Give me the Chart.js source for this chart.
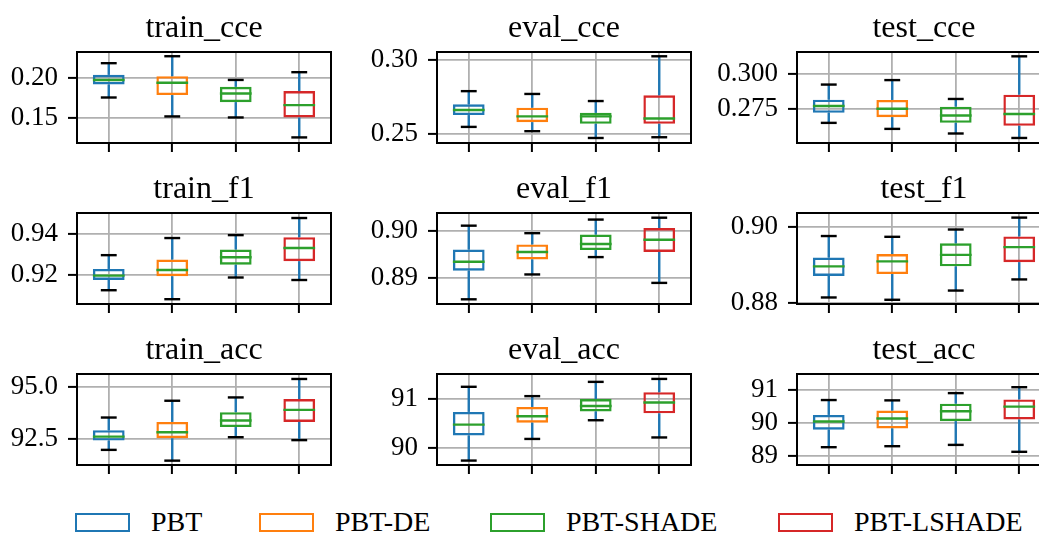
<!DOCTYPE html>
<html>
<head>
<meta charset="utf-8">
<script src="https://cdn.jsdelivr.net/npm/chart.js@4.4.1/dist/chart.umd.min.js"></script>
<style>
  html, body { margin: 0; padding: 0; background: #fff; }
  #fig { position: relative; width: 1039px; height: 534px; overflow: hidden; }
  #fig canvas { position: absolute; }
  .item {
    position: absolute; top: 505px; height: 34px;
    display: flex; align-items: center; white-space: nowrap;
    font-family: "Liberation Serif", serif; font-size: 28px; color: #000;
  }
  .swatch { box-sizing: border-box; width: 55px; height: 19px; border: 2.5px solid; margin-right: 21px; }
</style>
</head>
<body>
<div id="fig"></div>
<script>
const methods = ["PBT", "PBT-DE", "PBT-SHADE", "PBT-LSHADE"];
const boxColors = ["#1f77b4", "#ff7f0e", "#2ca02c", "#d62728"];

// one row per method: [lower whisker, q1, median, q3, upper whisker]
const trainCce = [
  [0.175, 0.1913, 0.197, 0.2034, 0.218],
  [0.1513, 0.178, 0.1934, 0.2017, 0.2267],
  [0.150, 0.1692, 0.180, 0.1884, 0.197],
  [0.125, 0.150, 0.1655, 0.183, 0.2067],
];
const evalCce = [
  [0.2545, 0.2625, 0.2659, 0.2698, 0.2787],
  [0.2516, 0.2577, 0.2616, 0.2675, 0.2768],
  [0.247, 0.2566, 0.2616, 0.264, 0.272],
  [0.2475, 0.2566, 0.2602, 0.2759, 0.3023],
];
const testCce = [
  [0.2649, 0.2721, 0.277, 0.2815, 0.2923],
  [0.2606, 0.269, 0.275, 0.2813, 0.2955],
  [0.2573, 0.2649, 0.2702, 0.2765, 0.282],
  [0.2541, 0.2628, 0.2712, 0.2851, 0.3125],
];
const trainF1 = [
  [0.9128, 0.9177, 0.9198, 0.923, 0.9296],
  [0.9085, 0.9195, 0.9225, 0.9275, 0.9378],
  [0.9189, 0.925, 0.9286, 0.9323, 0.9392],
  [0.9177, 0.9267, 0.933, 0.9382, 0.9474],
];
const evalF1 = [
  [0.8854, 0.8915, 0.8934, 0.896, 0.9011],
  [0.8907, 0.8939, 0.8955, 0.8971, 0.8995],
  [0.8944, 0.8959, 0.8972, 0.8992, 0.9024],
  [0.8889, 0.8955, 0.8981, 0.9006, 0.9028],
];
const testF1 = [
  [0.8815, 0.8871, 0.8896, 0.8919, 0.8975],
  [0.8809, 0.8876, 0.8909, 0.8928, 0.8973],
  [0.8833, 0.8896, 0.8926, 0.8956, 0.8992],
  [0.8862, 0.8907, 0.8946, 0.8974, 0.9023],
];
const trainAcc = [
  [91.97, 92.42, 92.61, 92.92, 93.53],
  [91.45, 92.53, 92.82, 93.32, 94.34],
  [92.58, 93.07, 93.39, 93.79, 94.5],
  [92.44, 93.32, 93.9, 94.42, 95.39],
];
const evalAcc = [
  [89.75, 90.26, 90.48, 90.74, 91.25],
  [90.19, 90.52, 90.65, 90.84, 91.06],
  [90.57, 90.75, 90.86, 91.0, 91.35],
  [90.22, 90.71, 90.93, 91.14, 91.41],
];
const testAcc = [
  [89.27, 89.8, 90.05, 90.25, 90.7],
  [89.3, 89.84, 90.14, 90.38, 90.69],
  [89.34, 90.06, 90.36, 90.59, 90.91],
  [89.13, 90.11, 90.5, 90.72, 91.09],
];

// y limits and tick values per panel
const panels = [
  { title: "train_cce", stats: trainCce, yMin: 0.118, yMax: 0.232, yTicks: [0.15, 0.20], digits: 2 },
  { title: "eval_cce", stats: evalCce, yMin: 0.2436, yMax: 0.3052, yTicks: [0.25, 0.30], digits: 2 },
  { title: "test_cce", stats: testCce, yMin: 0.2505, yMax: 0.3156, yTicks: [0.275, 0.300], digits: 3 },
  { title: "train_f1", stats: trainF1, yMin: 0.9062, yMax: 0.9498, yTicks: [0.92, 0.94], digits: 2 },
  { title: "eval_f1", stats: evalF1, yMin: 0.8844, yMax: 0.9038, yTicks: [0.89, 0.90], digits: 2 },
  { title: "test_f1", stats: testF1, yMin: 0.8798, yMax: 0.9035, yTicks: [0.88, 0.90], digits: 2 },
  { title: "train_acc", stats: trainAcc, yMin: 91.24, yMax: 95.63, yTicks: [92.5, 95.0], digits: 1 },
  { title: "eval_acc", stats: evalAcc, yMin: 89.66, yMax: 91.51, yTicks: [90, 91], digits: 0 },
  { title: "test_acc", stats: testAcc, yMin: 88.73, yMax: 91.49, yTicks: [89, 90, 91], digits: 0 },
];

// grid geometry of the axes
const colLeft = [77, 437, 797];
const rowTop = [52, 213, 374];
const plotW = 254, plotH = 91;
const padL = 90, padT = 52, padR = 6, padB = 24;

const SERIF = '"Liberation Serif", serif';
const LINE = 2.4;

function strokeLine(ctx, x1, y1, x2, y2) {
  ctx.beginPath();
  ctx.moveTo(x1, y1);
  ctx.lineTo(x2, y2);
  ctx.stroke();
}

// whiskers, caps, medians, frame and title on top of the floating bars
const boxParts = {
  id: "boxParts",
  afterDatasetsDraw(chart, args, opts) {
    const { ctx, scales: { x, y } } = chart;
    const bars = chart.getDatasetMeta(0).data;
    ctx.save();
    ctx.lineWidth = LINE;
    opts.stats.forEach((s, i) => {
      const cx = x.getPixelForValue(i);
      const half = bars[i].width / 2;
      const [lo, q1, med, q3, hi] = s.map((v) => y.getPixelForValue(v));
      ctx.strokeStyle = "#1f77b4";
      strokeLine(ctx, cx, q3, cx, hi);
      strokeLine(ctx, cx, q1, cx, lo);
      ctx.strokeStyle = "#000";
      strokeLine(ctx, cx - half / 2, hi, cx + half / 2, hi);
      strokeLine(ctx, cx - half / 2, lo, cx + half / 2, lo);
      ctx.strokeStyle = "#2ca02c";
      strokeLine(ctx, cx - half, med, cx + half, med);
    });
    ctx.restore();
  },
  afterDraw(chart, args, opts) {
    const { ctx, chartArea: a } = chart;
    ctx.save();
    ctx.strokeStyle = "#000";
    ctx.lineWidth = 2;
    ctx.strokeRect(a.left, a.top, a.right - a.left, a.bottom - a.top);
    ctx.fillStyle = "#000";
    ctx.font = "32px " + SERIF;
    ctx.textAlign = "center";
    ctx.textBaseline = "alphabetic";
    ctx.fillText(opts.title, (a.left + a.right) / 2, a.top - 15);
    ctx.restore();
  },
};

const gridStyle = { color: "#b0b0b0", lineWidth: 1.8, tickColor: "#000", tickLength: 9, tickWidth: 2 };

const fig = document.getElementById("fig");

panels.forEach((p, k) => {
  const col = k % 3, row = Math.floor(k / 3);
  const canvas = document.createElement("canvas");
  canvas.width = plotW + padL + padR;
  canvas.height = plotH + padT + padB;
  canvas.style.left = colLeft[col] - padL + "px";
  canvas.style.top = rowTop[row] - padT + "px";
  fig.appendChild(canvas);

  new Chart(canvas, {
    type: "bar",
    data: {
      labels: methods,
      datasets: [
        {
          data: p.stats.map((s) => [s[1], s[3]]),
          backgroundColor: "rgba(0,0,0,0)",
          borderColor: boxColors,
          borderWidth: LINE,
          borderSkipped: false,
          barPercentage: 0.5,
          categoryPercentage: 1,
        },
      ],
    },
    options: {
      responsive: false,
      animation: false,
      events: [],
      layout: { padding: { top: padT, right: padR, left: 0, bottom: 0 } },
      plugins: {
        legend: { display: false },
        tooltip: { enabled: false },
        title: { display: false },
        boxParts: { stats: p.stats, title: p.title },
      },
      scales: {
        x: {
          type: "category",
          offset: true,
          ticks: { display: false },
          grid: { ...gridStyle, offset: false },
          border: { display: false },
          afterFit: (s) => { s.height = padB; s.paddingLeft = 0; s.paddingRight = 0; },
        },
        y: {
          min: p.yMin,
          max: p.yMax,
          afterBuildTicks: (s) => { s.ticks = p.yTicks.map((v) => ({ value: v })); },
          // fixed axis width; tick labels may hang past the plot edges
          afterFit: (s) => { s.width = padL; s.paddingTop = 0; s.paddingBottom = 0; },
          ticks: {
            autoSkip: false,
            padding: 10,
            color: "#000",
            font: { family: SERIF, size: 27 },
            callback: (v) => Number(v).toFixed(p.digits),
          },
          grid: gridStyle,
          border: { display: false },
        },
      },
    },
    plugins: [boxParts],
  });
});

// shared legend under the grid
const legendX = [75, 259, 490, 778];
methods.forEach((m, i) => {
  const item = document.createElement("div");
  item.className = "item";
  item.style.left = legendX[i] + "px";
  const sw = document.createElement("span");
  sw.className = "swatch";
  sw.style.borderColor = boxColors[i];
  const txt = document.createElement("span");
  txt.textContent = m;
  item.appendChild(sw);
  item.appendChild(txt);
  fig.appendChild(item);
});
</script>
</body>
</html>
